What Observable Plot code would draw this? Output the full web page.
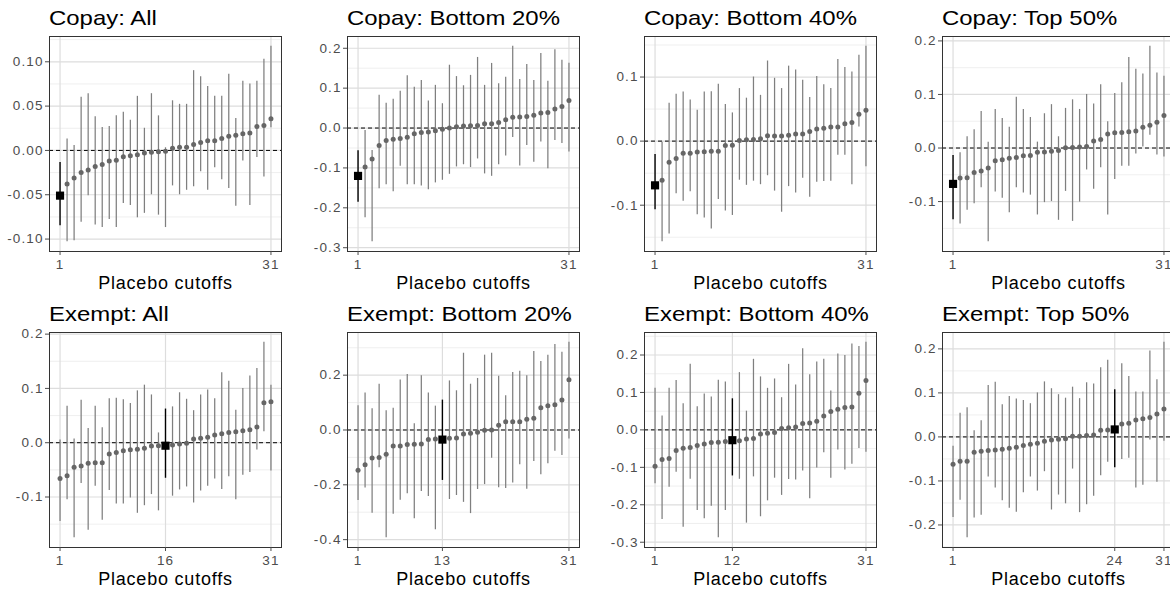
<!DOCTYPE html>
<html><head><meta charset="utf-8">
<script src="https://cdn.jsdelivr.net/npm/d3@7"></script>
<script src="https://cdn.jsdelivr.net/npm/@observablehq/plot@0.6"></script>
<style>
html,body{margin:0;padding:0;background:#fff;overflow:hidden;width:1170px;height:592px;}
#grid{position:relative;width:1190px;height:592px;}
.cell{position:absolute;width:297.5px;height:296px;}
.title{position:absolute;left:49px;top:6px;font-family:"Liberation Sans",Arial,sans-serif;font-size:21px;line-height:24px;color:#000;white-space:nowrap;transform:scaleX(1.14);transform-origin:0 0;}
.cell svg{position:absolute;left:0;top:35px;}
.cell svg text{font-size:13.5px !important;letter-spacing:1.1px !important;font-family:"Liberation Sans",Arial,sans-serif !important;}
.cell svg g.xlab text{font-size:18px !important;letter-spacing:0.8px !important;}
</style></head><body><div id="grid"></div>
<script>
// ---------- data ----------
const titles = ["Copay: All","Copay: Bottom 20%","Copay: Bottom 40%","Copay: Top 50%",
                "Exempt: All","Exempt: Bottom 20%","Exempt: Bottom 40%","Exempt: Top 50%"];
const xLabel = "Placebo cutoffs";
const realRank = [1,1,1,1,16,13,12,24];
const xTicks = [[1,31],[1,31],[1,31],[1,31],[1,16,31],[1,13,31],[1,12,31],[1,24,31]];
const yTicks = [[-0.10,-0.05,0,0.05,0.10],[-0.3,-0.2,-0.1,0,0.1,0.2],[-0.1,0,0.1],[-0.1,0,0.1,0.2],
                [-0.1,0,0.1,0.2],[-0.4,-0.2,0,0.2],[-0.3,-0.2,-0.1,0,0.1,0.2],[-0.2,-0.1,0,0.1,0.2]];
const yDecimals = [2,1,1,1,1,1,1,1];

const copayAllEst = [-0.051,-0.038,-0.031,-0.025,-0.022,-0.018,-0.016,-0.012,-0.011,-0.007,-0.006,-0.005,-0.003,-0.002,-0.0015,-0.001,0.0025,0.0035,0.0037,0.0067,0.009,0.011,0.011,0.0135,0.016,0.017,0.0187,0.0198,0.027,0.028,0.0356];
const copayAllHi  = [-0.0135,0.013,0.0056,0.060,0.064,0.038,0.026,0.027,0.039,0.043,0.034,0.061,0.025,0.064,0.039,0.003,0.056,0.052,0.052,0.090,0.083,0.072,0.061,0.061,0.086,0.036,0.078,0.075,0.078,0.103,0.1175];
const copayAllLo  = [-0.085,-0.103,-0.102,-0.081,-0.051,-0.084,-0.087,-0.078,-0.087,-0.060,-0.062,-0.076,-0.071,-0.050,-0.073,-0.087,-0.040,-0.050,-0.045,-0.041,-0.024,-0.045,-0.0196,-0.033,-0.043,-0.063,-0.012,-0.062,-0.008,-0.030,0.0255];

const copayB20Est = [-0.120,-0.0975,-0.0775,-0.044,-0.031,-0.028,-0.026,-0.023,-0.014,-0.011,-0.010,-0.007,-0.003,0.000,0.003,0.005,0.006,0.0065,0.011,0.011,0.014,0.021,0.027,0.028,0.029,0.032,0.038,0.039,0.0475,0.054,0.069];
const copayB20Hi  = [-0.057,-0.006,-0.056,0.0825,0.062,0.072,0.0925,0.131,0.1025,0.119,0.0675,0.107,0.061,0.1575,0.129,0.106,0.132,0.177,0.107,0.162,0.111,0.1275,0.205,0.122,0.159,0.119,0.187,0.117,0.196,0.170,0.1625];
const copayB20Lo  = [-0.186,-0.225,-0.285,-0.152,-0.142,-0.160,-0.096,-0.142,-0.142,-0.145,-0.155,-0.1375,-0.131,-0.116,-0.0975,-0.092,-0.099,-0.0775,-0.115,-0.121,-0.092,-0.070,-0.024,-0.095,-0.044,-0.086,-0.035,-0.102,-0.031,-0.039,-0.060];

const copayB40Est = [-0.069,-0.061,-0.033,-0.027,-0.019,-0.019,-0.017,-0.0165,-0.016,-0.016,-0.0068,-0.0065,0.001,0.002,0.0025,0.0035,0.0083,0.008,0.008,0.009,0.011,0.011,0.015,0.019,0.020,0.022,0.022,0.027,0.029,0.042,0.048];
const copayB40Hi  = [-0.021,-0.0016,0.059,0.073,0.0766,0.064,0.048,0.0766,0.077,0.0886,0.057,0.044,0.082,0.067,0.100,0.0714,0.125,0.098,0.082,0.117,0.111,0.095,0.068,0.101,0.088,0.082,0.1275,0.115,0.108,0.134,0.148];
const copayB40Lo  = [-0.107,-0.157,-0.145,-0.082,-0.094,-0.079,-0.115,-0.120,-0.137,-0.091,-0.109,-0.116,-0.061,-0.069,-0.0625,-0.068,-0.054,-0.078,-0.111,-0.071,-0.081,-0.058,-0.0875,-0.064,-0.063,-0.0625,-0.022,-0.022,-0.068,0.022,-0.040];

const copayT50Est = [-0.067,-0.056,-0.0555,-0.0455,-0.043,-0.0375,-0.024,-0.022,-0.019,-0.0175,-0.0145,-0.014,-0.008,-0.0075,-0.006,-0.0045,0.0005,0.001,0.002,0.003,0.013,0.016,0.026,0.0285,0.029,0.0305,0.032,0.039,0.0425,0.048,0.0605];
const copayT50Hi  = [-0.014,-0.009,0.021,0.034,0.068,0.011,0.072,0.055,0.039,0.095,0.072,0.057,0.011,0.064,0.081,0.021,0.074,0.090,0.072,0.100,0.082,0.118,0.049,0.102,0.122,0.169,0.147,0.138,0.190,0.140,0.134];
const copayT50Lo  = [-0.134,-0.142,-0.116,-0.104,-0.074,-0.175,-0.082,-0.094,-0.121,-0.074,-0.084,-0.088,-0.125,-0.102,-0.100,-0.135,-0.081,-0.137,-0.101,-0.041,-0.077,-0.037,-0.125,-0.059,-0.034,-0.034,-0.011,0.002,0.024,-0.013,-0.017];

const exemptAllEst = [-0.066,-0.061,-0.045,-0.043,-0.038,-0.037,-0.037,-0.021,-0.018,-0.015,-0.013,-0.012,-0.010,-0.006,-0.0055,-0.0055,-0.004,-0.0025,-0.001,0.007,0.008,0.010,0.014,0.0165,0.019,0.020,0.022,0.024,0.029,0.0735,0.0755];
const exemptAllHi  = [0.005,0.067,0.007,0.078,0.026,0.067,0.0275,0.081,0.082,0.079,0.072,0.0955,0.106,0.088,0.018,0.062,0.066,0.092,0.080,0.059,0.088,0.097,0.081,0.129,0.113,0.060,0.100,0.123,0.1365,0.185,0.106];
const exemptAllLo  = [-0.145,-0.105,-0.175,-0.075,-0.161,-0.080,-0.143,-0.088,-0.113,-0.113,-0.102,-0.130,-0.116,-0.0955,-0.1255,-0.0655,-0.0985,-0.087,-0.0815,-0.111,-0.089,-0.080,-0.067,-0.086,-0.0625,-0.105,-0.060,-0.055,-0.0135,0.020,-0.052];

const exemptB20Est = [-0.147,-0.127,-0.102,-0.1005,-0.0885,-0.058,-0.058,-0.053,-0.052,-0.051,-0.035,-0.033,-0.035,-0.030,-0.029,-0.0145,-0.012,-0.0085,-0.001,0.000,0.017,0.030,0.030,0.030,0.039,0.0425,0.081,0.0885,0.092,0.109,0.183];
const exemptB20Hi  = [0.0885,0.1345,0.0775,0.167,0.070,0.079,0.182,0.2025,0.023,0.1975,0.1345,0.087,0.109,0.179,0.143,0.280,0.167,0.188,0.273,0.280,0.196,0.125,0.210,0.2145,0.1975,0.286,0.250,0.273,0.3115,0.2835,0.320];
const exemptB20Lo  = [-0.257,-0.212,-0.304,-0.138,-0.393,-0.307,-0.256,-0.233,-0.324,-0.224,-0.2425,-0.364,-0.184,-0.2535,-0.239,-0.264,-0.305,-0.217,-0.199,-0.103,-0.211,-0.2135,-0.193,-0.127,-0.216,-0.115,-0.1635,-0.1235,-0.0775,-0.093,-0.033];

const exemptB40Est = [-0.097,-0.079,-0.0765,-0.055,-0.049,-0.047,-0.042,-0.038,-0.034,-0.033,-0.031,-0.0275,-0.029,-0.024,-0.023,-0.011,-0.009,-0.007,0.0035,0.006,0.008,0.017,0.0185,0.023,0.037,0.049,0.055,0.060,0.061,0.098,0.132];
const exemptB40Hi  = [0.111,0.037,0.111,0.132,0.070,0.175,0.062,0.096,0.088,0.1325,0.128,0.083,0.153,0.050,0.1885,0.1415,0.111,0.136,0.086,0.175,0.120,0.217,0.147,0.1815,0.1885,0.104,0.203,0.1985,0.2295,0.2225,0.234];
const exemptB40Lo  = [-0.144,-0.239,-0.153,-0.113,-0.260,-0.132,-0.215,-0.237,-0.204,-0.288,-0.215,-0.123,-0.132,-0.249,-0.1255,-0.232,-0.1895,-0.129,-0.175,-0.1325,-0.1335,-0.110,-0.184,-0.102,-0.061,-0.129,-0.054,-0.107,-0.092,-0.050,-0.060];

const exemptT50Est = [-0.062,-0.055,-0.055,-0.035,-0.0326,-0.031,-0.0295,-0.028,-0.026,-0.0235,-0.0197,-0.0167,-0.0145,-0.010,-0.0068,-0.0054,-0.004,0.0015,0.0015,0.003,0.0045,0.015,0.016,0.017,0.0295,0.031,0.0385,0.041,0.044,0.052,0.0635];
const exemptT50Hi  = [-0.021,0.054,0.066,0.014,0.037,0.117,0.124,0.073,0.092,0.086,0.083,0.0755,0.100,0.125,0.1095,0.096,0.088,0.113,0.087,0.123,0.120,0.157,0.174,0.107,0.166,0.137,0.102,0.102,0.195,0.130,0.215];
const exemptT50Lo  = [-0.183,-0.144,-0.229,-0.184,-0.178,-0.091,-0.116,-0.145,-0.162,-0.171,-0.127,-0.091,-0.123,-0.079,-0.166,-0.132,-0.152,-0.073,-0.172,-0.154,-0.135,-0.088,-0.0575,-0.070,-0.0515,-0.0485,-0.116,-0.110,-0.007,-0.103,-0.010];

const estimates = [copayAllEst,copayB20Est,copayB40Est,copayT50Est,exemptAllEst,exemptB20Est,exemptB40Est,exemptT50Est];
const uppers    = [copayAllHi,copayB20Hi,copayB40Hi,copayT50Hi,exemptAllHi,exemptB20Hi,exemptB40Hi,exemptT50Hi];
const lowers    = [copayAllLo,copayB20Lo,copayB40Lo,copayT50Lo,exemptAllLo,exemptB20Lo,exemptB40Lo,exemptT50Lo];

// ---------- drawing ----------
const grid = document.getElementById("grid");
const FONT = '"Liberation Sans", Arial, sans-serif';

titles.forEach((title, k) => {
  const rows = estimates[k].map((e, i) => ({x: i + 1, est: e, hi: uppers[k][i], lo: lowers[k][i], real: i + 1 === realRank[k]}));
  const ymin = d3.min(rows, d => d.lo), ymax = d3.max(rows, d => d.hi);
  const pad = (ymax - ymin) * 0.05;
  const domain = [ymin - pad, ymax + pad];
  const major = yTicks[k];
  const step = major[1] - major[0];
  const minor = [];
  for (let i = -1; i < major.length; i++) {
    const v = major[0] + (i + 0.5) * step;
    if (v > domain[0] && v < domain[1]) minor.push(v);
  }
  const others = rows.filter(d => !d.real), real = rows.filter(d => d.real);
  const dec = yDecimals[k];

  const chart = Plot.plot({
    width: 297.5, height: 260,
    marginTop: 1, marginBottom: 44, marginLeft: 49, marginRight: 16.5,
    x: {domain: [-0.5, 32.5], label: null},
    y: {domain, label: null},
    style: {fontFamily: FONT, fontSize: "13.5px", color: "#4d4d4d", background: "transparent", overflow: "visible"},
    marks: [
      Plot.ruleY(minor, {stroke: "#ebebeb", strokeWidth: 0.8}),
      Plot.ruleY(major, {stroke: "#dddddd", strokeWidth: 1.2}),
      Plot.ruleX(xTicks[k], {stroke: "#dddddd", strokeWidth: 1.2}),
      Plot.ruleY([0], {stroke: "#000", strokeDasharray: "4,3", strokeWidth: 1}),
      Plot.ruleX(others, {x: "x", y1: "lo", y2: "hi", stroke: "#7f7f7f", strokeWidth: 1.25}),
      Plot.dot(others, {x: "x", y: "est", r: 2.5, fill: "#666666"}),
      Plot.ruleX(real, {x: "x", y1: "lo", y2: "hi", stroke: "#000", strokeWidth: 1.4}),
      Plot.dot(real, {x: "x", y: "est", symbol: "square", r: 4.6, fill: "#000"}),
      Plot.frame({stroke: "#333", strokeWidth: 1}),
      Plot.axisY({ticks: major, tickFormat: d => d.toFixed(dec), tickSize: 4, tickPadding: 2, label: null, fontSize: 13.5}),
      Plot.axisX({ticks: xTicks[k], tickFormat: d => String(d), tickSize: 4, tickPadding: 4, label: null, fontSize: 13.5}),
      Plot.text([xLabel], {frameAnchor: "bottom", dy: 32, lineAnchor: "middle", fontSize: 18, fill: "#000", className: "xlab"})
    ]
  });

  const cell = document.createElement("div");
  cell.className = "cell";
  cell.style.left = (k % 4) * 297.5 + "px";
  cell.style.top = Math.floor(k / 4) * 296 + "px";
  const t = document.createElement("div");
  t.className = "title";
  t.textContent = title;
  cell.appendChild(t);
  cell.appendChild(chart);
  grid.appendChild(cell);
});
</script></body></html>
